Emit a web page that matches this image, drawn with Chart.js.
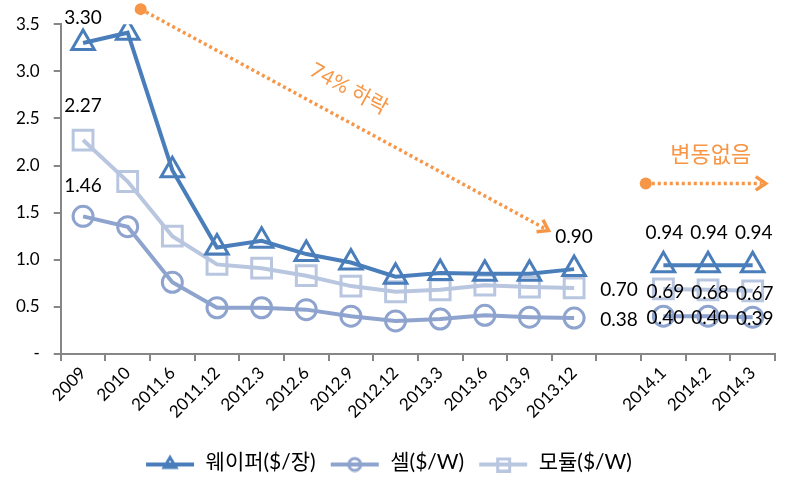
<!DOCTYPE html>
<html><head><meta charset="utf-8">
<script src="https://cdn.jsdelivr.net/npm/chart.js@4.4.1/dist/chart.umd.min.js"></script>
<style>html,body{margin:0;padding:0;background:#fff}#wrap{width:805px;height:485px}</style>
</head><body><div id="wrap"><canvas id="c" width="805" height="485"></canvas></div>
<script>
const categories = ['2009','2010','2011.6','2011.12','2012.3','2012.6','2012.9','2012.12','2013.3','2013.6','2013.9','2013.12','','2014.1','2014.2','2014.3'];
const wafer  = [3.30,3.41,1.95,1.13,1.20,1.06,0.97,0.82,0.86,0.85,0.85,0.90,null,0.94,0.94,0.94];
const cell   = [1.46,1.35,0.76,0.49,0.49,0.47,0.40,0.35,0.37,0.41,0.39,0.38,null,0.40,0.40,0.39];
const module_= [2.27,1.83,1.25,0.95,0.91,0.83,0.72,0.66,0.68,0.73,0.71,0.70,null,0.69,0.68,0.67];
const seriesNames = ['웨이퍼($/장)','셀($/W)','모듈($/W)'];
const yTicks = [0,0.5,1.0,1.5,2.0,2.5,3.0,3.5];
const labeledIdx = [0,11,13,14,15];
const annotDrop = '74% 하락';
const annotFlat = '변동없음';

const FONT = "Lato, 'Noto Sans CJK KR', sans-serif";
const cW='#4A7EBB', cC='#8EA4CE', cM='#B9C6E0', cO='#F79646';

function legendImg(color, style){
  const cv=document.createElement('canvas'); cv.width=50; cv.height=20;
  const x=cv.getContext('2d');
  x.strokeStyle=color; x.lineWidth=4; x.beginPath(); x.moveTo(1,12); x.lineTo(49,12); x.stroke();
  x.lineWidth=3;
  x.beginPath();
  if(style==='triangle'){ x.moveTo(25,5); x.lineTo(31,15); x.lineTo(19,15); x.closePath(); }
  else if(style==='circle'){ x.arc(25,12,6,0,Math.PI*2); }
  else { x.rect(19.5,6.5,12,12); }
  x.stroke();
  return cv;
}

const labelPlugin={id:'lbls',afterDatasetsDraw(chart){
  const ctx=chart.ctx; const xs=chart.scales.x, ys=chart.scales.y;
  ctx.save(); ctx.font="19px "+FONT; ctx.fillStyle='#000'; ctx.textAlign='center'; ctx.textBaseline='middle';
  const offs=[ // per dataset: [first, 2013.12, 2014]
    [[0,-25],[0,-32],[1,-32]],
    [[0,-30],[45,2],[2,2]],
    [[0,-34],[45,2],[2,3]]
  ];
  [wafer,cell,module_].forEach((arr,d)=>{
    labeledIdx.forEach(i=>{
      const o = i===0?offs[d][0]:(i===11?offs[d][1]:offs[d][2]);
      ctx.fillText(arr[i].toFixed(2), xs.getPixelForValue(i)+o[0], ys.getPixelForValue(arr[i])+o[1]);
    });
  });
  function arrow(x1,y1,x2,y2){
    ctx.strokeStyle=cO; ctx.fillStyle=cO; ctx.lineWidth=3.5; ctx.setLineDash([3,3]);
    const a=Math.atan2(y2-y1,x2-x1);
    ctx.beginPath(); ctx.moveTo(x1,y1); ctx.lineTo(x2-4*Math.cos(a),y2-4*Math.sin(a)); ctx.stroke();
    ctx.setLineDash([]);
    ctx.beginPath(); ctx.arc(x1,y1,6,0,Math.PI*2); ctx.fill();
    ctx.lineWidth=3.5; ctx.lineCap='butt'; ctx.lineJoin='miter';
    ctx.beginPath();
    ctx.moveTo(x2-12*Math.cos(a-0.6),y2-12*Math.sin(a-0.6));
    ctx.lineTo(x2,y2);
    ctx.lineTo(x2-12*Math.cos(a+0.6),y2-12*Math.sin(a+0.6));
    ctx.stroke();
  }
  const ax1=xs.getPixelForValue(1)+13, ay1=ys.getPixelForValue(3.66);
  const ax2=xs.getPixelForValue(10)+19, ay2=ys.getPixelForValue(1.31);
  arrow(ax1,ay1,ax2,ay2);
  const bx1=xs.getPixelForValue(12)+27, by=ys.getPixelForValue(1.81);
  const bx2=xs.getPixelForValue(15)+13;
  arrow(bx1,by,bx2,by);
  ctx.fillStyle=cO; ctx.font="21px "+FONT;
  ctx.save(); ctx.translate(349,89); ctx.rotate(Math.atan2(ay2-ay1,ax2-ax1)); ctx.fillText(annotDrop,0,0); ctx.restore();
  ctx.font="22px "+FONT; ctx.fillText(annotFlat,(bx1+bx2)/2+5,155);
  ctx.restore();
}};

function ds(label,data,color,style,r){
  return {label,data,borderColor:color,backgroundColor:'rgba(0,0,0,0)',borderWidth:4,
    pointStyle:style,pointRadius:r,pointHoverRadius:r,pointBorderWidth:3,pointBackgroundColor:'rgba(0,0,0,0)',
    pointBorderColor:color,spanGaps:false,tension:0};
}

new Chart(document.getElementById('c'),{
  type:'line',
  data:{labels:categories,datasets:[
    ds(seriesNames[0],wafer,cW,'triangle',13),
    ds(seriesNames[1],cell,cC,'circle',10),
    ds(seriesNames[2],module_,cM,'rect',14)
  ]},
  options:{responsive:false,animation:false,
    layout:{padding:{top:14,right:30,left:2,bottom:2}},
    plugins:{tooltip:{enabled:false},
      legend:{position:'bottom',labels:{font:{family:FONT,size:21},color:'#000',usePointStyle:true,pointStyleWidth:50,boxHeight:20,padding:14,
        generateLabels(chart){
          const st=['triangle','circle','rect'], cl=[cW,cC,cM];
          return chart.data.datasets.map((d,i)=>({text:d.label,pointStyle:legendImg(cl[i],st[i]),datasetIndex:i,fontColor:'#000',lineWidth:0,strokeStyle:'rgba(0,0,0,0)',fillStyle:'rgba(0,0,0,0)'}));
        }}}},
    scales:{
      x:{offset:true,afterFit(s){s.height+=14;},grid:{offset:true,drawOnChartArea:false,color:'#868686',tickLength:7,lineWidth:2},
        border:{color:'#868686',width:2},
        ticks:{font:{family:FONT,size:17},color:'#000',minRotation:45,maxRotation:45,autoSkip:false,padding:2}},
      y:{min:0,max:3.5,afterBuildTicks(s){s.ticks=yTicks.map(v=>({value:v}));},
        grid:{drawOnChartArea:false,color:'#868686',tickLength:7,lineWidth:2},
        border:{color:'#868686',width:2},
        ticks:{font:{family:FONT,size:17},color:'#000',padding:14,callback:v=>v===0?'-':v.toFixed(1)}}
    }
  },
  plugins:[labelPlugin]
});
</script></body></html>
